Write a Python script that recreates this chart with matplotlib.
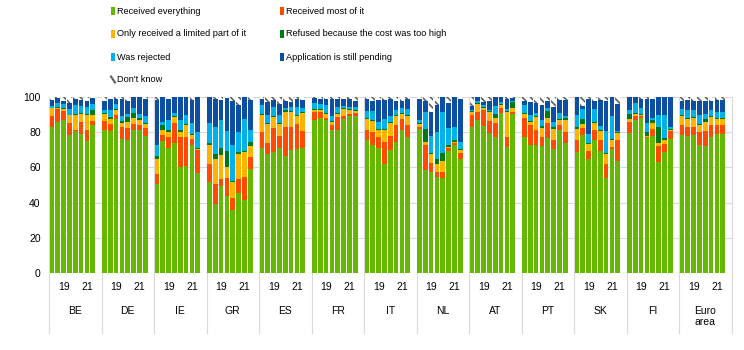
import matplotlib
matplotlib.use("Agg")
import matplotlib.pyplot as plt
import numpy as np
from matplotlib.patches import Rectangle
from matplotlib.lines import Line2D

plt.rcParams['font.family'] = ['Liberation Sans', 'DejaVu Sans']
plt.rcParams['hatch.color'] = '#606060'
plt.rcParams['hatch.linewidth'] = 1.2

countries = ["BE", "DE", "IE", "GR", "ES", "FR", "IT", "NL", "AT", "PT", "SK", "FI", "Euro\narea"]
year_labels = ["19", "21"]
series_names = ["Received everything", "Received most of it",
                "Only received a limited part of it", "Refused because the cost was too high",
                "Was rejected", "Application is still pending", "Don't know"]

received_everything = [
    [83, 86, 87, 78.5, 80.5, 79, 75, 84],
    [81.5, 80.5, 87.5, 76, 75.5, 81, 81, 78],
    [50.5, 75, 71, 74, 60, 61, 73, 57],
    [51.5, 39, 49.5, 44, 36, 45.5, 41.5, 59],
    [71, 67.5, 69, 71, 66.5, 70, 70.5, 71],
    [87, 88, 87, 81, 81.5, 87.5, 89, 89],
    [75.5, 73, 71, 62, 70, 74.5, 81.5, 77],
    [82, 58.5, 57.5, 54.5, 54, 69.5, 72.5, 64.5],
    [83, 87, 83.5, 79.5, 77.5, 91, 71.5, 90.5],
    [77, 73, 72.5, 72, 76.5, 70.5, 81.5, 74],
    [69, 78.5, 64.5, 75.5, 69.5, 54, 70.5, 63.5],
    [79.5, 87, 88, 76.5, 78, 63, 68.5, 76],
    [78.5, 78, 78.5, 73, 72, 77.5, 79, 79],
]
received_most = [
    [6, 7, 5, 7, 0.5, 7, 6, 2.5],
    [5, 4, 2.5, 7, 7, 3.5, 3, 4.5],
    [6, 3.5, 6.5, 11, 17, 16.5, 3, 13],
    [10.5, 11.5, 4, 10, 6.5, 8, 13, 7],
    [9, 6.5, 13.5, 7, 16.5, 13, 14, 9.5],
    [4.5, 3.5, 1, 3, 7, 1.5, 1.5, 2],
    [5.5, 7, 6, 12.5, 8, 9.5, 6, 7],
    [1, 14, 5, 3, 3.5, 1.5, 1.5, 3.5],
    [6.5, 4.5, 9, 7, 7.5, 2.5, 6, 1],
    [11, 11, 8.5, 5.5, 8.5, 5, 2.5, 6],
    [6.5, 4, 5, 6, 6, 8, 1, 12],
    [6.5, 2, 1, 0.5, 4, 9, 5, 4.5],
    [5.5, 5, 4.5, 7, 8.5, 6.5, 5, 5],
]
limited_part = [
    [4.5, 1, 1, 4, 8.5, 4.5, 8.5, 3],
    [4, 3, 2.5, 2, 3.5, 3.5, 3, 2],
    [8, 3, 2.5, 3.5, 3, 6.5, 2.5, 0.5],
    [11, 14, 13.5, 6, 9, 14, 14, 6],
    [10, 10.5, 6, 6.5, 8.5, 8.5, 4.5, 10.5],
    [1, 1, 2.5, 2, 2, 4, 2, 1],
    [6.5, 6.5, 4.5, 6.5, 7.5, 5, 3, 5],
    [1.5, 2, 5, 4.5, 6, 0.5, 0.5, 2],
    [2, 4.5, 1.5, 5, 3, 2, 14, 2],
    [2.5, 2, 7.5, 5, 3, 6.5, 3, 7],
    [6.5, 2, 4, 4, 5, 5.5, 4, 4],
    [1.5, 1.5, 0.5, 1, 3, 2, 2, 1],
    [5, 4.5, 5, 4, 5.5, 4.5, 3.5, 3.5],
]
refused_cost = [
    [0.5, 0.5, 0.5, 0.5, 1, 0.5, 1, 3],
    [0.5, 1, 0.5, 1.5, 2.5, 3, 1, 0.5],
    [2, 2.5, 1, 0.5, 1, 0.5, 0.5, 0.5],
    [1, 3, 4, 9.5, 0.5, 1, 1, 2.5],
    [0.5, 0.5, 0.5, 1, 1, 0.5, 0.5, 0.5],
    [0.5, 0.5, 0.5, 0.5, 0.5, 0.5, 0.5, 0.5],
    [0.5, 0.5, 0.5, 1, 0.5, 1, 0.5, 0.5],
    [0.5, 7.5, 0.5, 2.5, 4.5, 1.5, 1, 0.5],
    [0.5, 0.5, 0.5, 0.5, 2.5, 0.5, 0.5, 3.5],
    [0.5, 0.5, 0.5, 1, 4, 1, 0.5, 1],
    [1, 3, 0.5, 0.5, 0.5, 0.5, 0.5, 0.5],
    [3, 0.5, 1, 2, 2, 9, 1, 0.5],
    [1, 0.5, 0.5, 0.5, 1.5, 0.5, 0.5, 0.5],
]
was_rejected = [
    [1, 2, 2.5, 3, 5, 4, 4, 3.5],
    [1.5, 4, 3, 2.5, 2, 2.5, 2.5, 4],
    [6, 2, 6, 2, 6, 5, 6.5, 9],
    [11, 15.5, 16, 11, 21, 11.5, 18, 7],
    [5, 5, 5.5, 4, 1, 2.5, 5, 2.5],
    [3.5, 3, 4.5, 2.5, 3.5, 1.5, 1.5, 2],
    [4, 5, 4, 5.5, 3, 2.5, 2.5, 3.5],
    [2, 9.5, 10, 15.5, 23.5, 9.5, 7.5, 4],
    [0.5, 1, 1, 0.5, 4.5, 1, 1, 0.5],
    [4.5, 3.5, 2, 3.5, 1.5, 3, 3.5, 1],
    [6.5, 5.5, 5, 7, 2.5, 12.5, 13, 0.5],
    [2, 5.5, 3.5, 5, 1, 7, 13, 1],
    [3, 4.5, 4, 5, 3, 3.5, 3.5, 3.5],
]
still_pending = [
    [3.5, 3, 2, 3.5, 3.5, 3.5, 3, 3.5],
    [5, 6.5, 3, 10, 7, 6.5, 9.5, 10],
    [26, 14, 12, 9, 13, 10.5, 13, 20],
    [15, 16, 11.5, 19, 24.5, 15.5, 12.5, 17],
    [3.5, 7, 4, 6.5, 4, 2.5, 4.5, 4.5],
    [3, 3, 3.5, 10, 4.5, 4, 4.5, 3],
    [7, 5.5, 12.5, 11, 10, 5, 4, 6],
    [12, 6.5, 13.5, 15.5, 8.5, 14, 17, 24.5],
    [2.5, 2.5, 1.5, 5, 5, 3, 6, 2],
    [2.5, 7, 5.5, 8.5, 4.5, 8.5, 7.5, 9.5],
    [10.5, 2, 20, 5, 15, 17, 11, 15.5],
    [7.5, 3.5, 5, 14, 11, 10, 10.5, 17],
    [5, 6, 5.5, 8.5, 7.5, 5.5, 7, 7],
]
dont_know = [
    [1.5, 0.5, 2, 3.5, 1, 1.5, 2.5, 0.5],
    [2.5, 1, 1, 1, 2.5, 0, 0, 1],
    [1.5, 0, 1, 0, 0, 0, 1.5, 0],
    [0, 1, 1.5, 0.5, 2.5, 4.5, 0, 1.5],
    [1, 3, 1.5, 4, 2.5, 3, 1, 1.5],
    [0.5, 1, 1, 1, 1, 1, 1, 2.5],
    [1, 2.5, 1.5, 1.5, 1, 2.5, 2.5, 1],
    [1, 2, 8.5, 4.5, 0, 3.5, 0, 1],
    [5, 0, 3, 2.5, 0, 0, 1, 0.5],
    [2.5, 3, 3.5, 4.5, 2, 5.5, 1.5, 1.5],
    [0, 5, 1, 2, 1.5, 2.5, 0, 4],
    [0, 0, 1, 1, 1, 0, 0, 0],
    [2, 1.5, 2, 2, 2, 2, 1.5, 1.5],
]

colors = ["#65B800", "#FF4B00", "#FFB400", "#007816", "#00B1EA", "#0B4EA2", "white"]
all_series = [received_everything, received_most, limited_part, refused_cost,
              was_rejected, still_pending, dont_know]

n_groups = len(countries)
n_bars = 8
slots = 9

W, H = 744, 350
fig = plt.figure(figsize=(W / 100, H / 100), dpi=100)
ax = fig.add_axes([49 / W, 1 - 273 / H, (731.5 - 49) / W, (273 - 97) / H])

x = np.array([g * slots + i + 0.5 for g in range(n_groups) for i in range(n_bars)])
bottom = np.zeros(len(x))
for k, (s, c) in enumerate(zip(all_series, colors)):
    vals = np.array(s, dtype=float).ravel()
    if k == len(all_series) - 1:
        ax.bar(x, vals, bottom=bottom, width=0.8, color="white", edgecolor="#606060",
               linewidth=0, hatch="\\\\\\\\", zorder=3)
    else:
        ax.bar(x, vals, bottom=bottom, width=0.8, color=c, linewidth=0, zorder=3)
    bottom += vals

ax.set_xlim(0, n_groups * slots)
ax.set_ylim(0, 100)
ax.set_yticks(range(0, 101, 20))
ax.tick_params(axis='y', length=0, labelsize=7.5, pad=6)
ax.set_xticks([])
for sp in ax.spines.values():
    sp.set_visible(False)
for yv in range(0, 101, 20):
    ax.axhline(yv, color="#d9d9d9", lw=0.8, zorder=1)

xt = ax.get_xaxis_transform()
for g in range(n_groups + 1):
    ax.plot([g * slots, g * slots], [1, -0.34], transform=xt, color="#d9d9d9",
            lw=0.8, clip_on=False, zorder=1)
for g in range(n_groups):
    ax.text(g * slots + 2.5, -0.08, year_labels[0], transform=xt, ha="center",
            va="center", fontsize=7.5)
    ax.text(g * slots + 6.5, -0.08, year_labels[1], transform=xt, ha="center",
            va="center", fontsize=7.5)
    ax.text(g * slots + 4.5, -0.185, countries[g], transform=xt, ha="center",
            va="top", fontsize=7.5, linespacing=1.15)

# legend
legend_pos = [(111, 11), (280, 11), (111, 34), (280, 34), (111, 57), (280, 57), (111, 79.5)]
for k, (name, (px, py)) in enumerate(zip(series_names, legend_pos)):
    if k < 6:
        fig.add_artist(Rectangle((px / W, 1 - (py + 3.5) / H), 4 / W, 7 / H,
                                 transform=fig.transFigure, facecolor=colors[k],
                                 edgecolor="none"))
    else:
        fig.add_artist(Line2D([px / W, (px + 4) / W], [1 - (py - 3) / H, 1 - (py + 3) / H],
                              transform=fig.transFigure, color="#606060", lw=1.5))
    fig.text((px + 6) / W, 1 - py / H, name, ha="left", va="center", fontsize=6.6)

fig.savefig("out.png", dpi=100)
